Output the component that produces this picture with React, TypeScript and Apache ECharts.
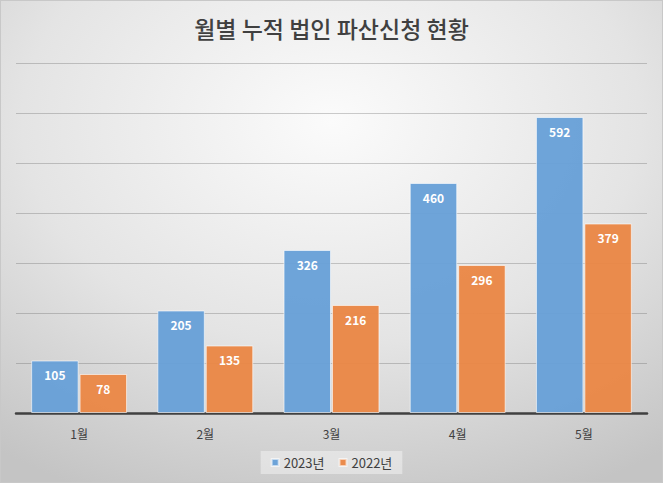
import React, { useEffect, useRef } from "react";
import * as echarts from "echarts";

const TITLE = "월별 누적 법인 파산신청 현황";
const MONTHS = ["1월", "2월", "3월", "4월", "5월"];
const Y2023 = [105, 205, 326, 460, 592];
const Y2022 = [78, 135, 216, 296, 379];
const SERIES_NAMES = ["2023년", "2022년"];

const FONT = "'Noto Sans CJK KR', 'Noto Sans', sans-serif";

const App: React.FC = () => {
    const ref = useRef<HTMLDivElement | null>(null);

    useEffect(() => {
        if (!ref.current) return;
        const inst = echarts.init(ref.current, undefined, { renderer: "svg" });

        const barLabel = {
            show: true,
            position: "insideTop",
            distance: 8,
            color: "#ffffff",
            fontWeight: "bold",
            fontSize: 12,
            fontFamily: FONT,
        };

        inst.setOption({
            animation: false,
            backgroundColor: new echarts.graphic.RadialGradient(0.5, 0.25, 0.85, [
                { offset: 0, color: "#fbfbfb" },
                { offset: 0.55, color: "#e4e4e4" },
                { offset: 1, color: "#c4c4c4" },
            ]),
            title: {
                text: TITLE,
                left: "center",
                top: 10,
                textStyle: {
                    fontFamily: FONT,
                    fontSize: 23,
                    fontWeight: 500,
                    color: "#404040",
                },
            },
            legend: {
                bottom: 8,
                left: "center",
                itemWidth: 7,
                itemHeight: 7,
                itemGap: 14,
                icon: "rect",
                padding: [5, 10],
                backgroundColor: "rgba(255,255,255,0.4)",
                textStyle: { fontFamily: FONT, fontSize: 13, color: "#404040" },
                data: SERIES_NAMES,
            },
            grid: { left: 15, right: 15, top: 62, bottom: 69, containLabel: false },
            xAxis: {
                type: "category",
                data: MONTHS,
                axisLine: { lineStyle: { color: "#404040", width: 2.5 } },
                axisTick: { show: false },
                axisLabel: {
                    color: "#404040",
                    fontSize: 12,
                    fontFamily: FONT,
                    margin: 14,
                },
            },
            yAxis: {
                type: "value",
                min: 0,
                max: 700,
                interval: 100,
                axisLabel: { show: false },
                axisLine: { show: false },
                axisTick: { show: false },
                splitLine: { lineStyle: { color: "rgba(90,90,90,0.3)", width: 1 } },
            },
            series: [
                {
                    name: SERIES_NAMES[0],
                    type: "bar",
                    data: Y2023,
                    barGap: "2%",
                    barCategoryGap: "24%",
                    itemStyle: {
                        color: "rgba(104,160,215,0.96)",
                        borderColor: "rgba(255,255,255,0.6)",
                        borderWidth: 1,
                    },
                    label: barLabel,
                },
                {
                    name: SERIES_NAMES[1],
                    type: "bar",
                    data: Y2022,
                    itemStyle: {
                        color: "rgba(234,135,70,0.96)",
                        borderColor: "rgba(255,255,255,0.6)",
                        borderWidth: 1,
                    },
                    label: barLabel,
                },
            ],
        });

        return () => inst.dispose();
    }, []);

    return (
        <div
            ref={ref}
            style={{
                position: "absolute",
                left: 0,
                top: 0,
                width: 663,
                height: 483,
                boxSizing: "border-box",
                border: "1px solid #c8c8c8",
            }}
        />
    );
};

export default App;
